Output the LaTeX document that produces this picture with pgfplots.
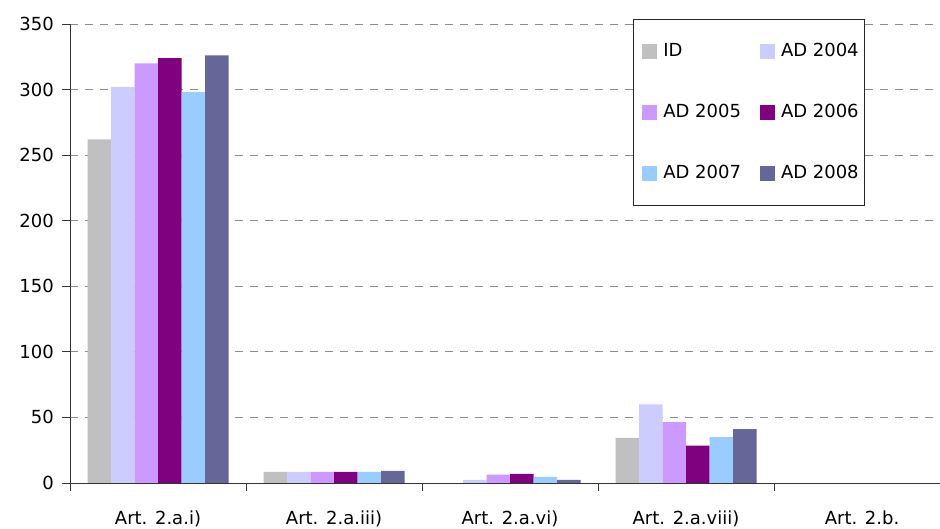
\documentclass[border=0pt]{standalone}
\usepackage{pgfplots}
\pgfplotsset{compat=1.18}
\usepackage{fontspec}
\setmainfont{DejaVu Sans}
\definecolor{cID}{HTML}{C0C0C0}
\definecolor{c04}{HTML}{CCCCFF}
\definecolor{c05}{HTML}{CC99FF}
\definecolor{c06}{HTML}{800080}
\definecolor{c07}{HTML}{99CCFF}
\definecolor{c08}{HTML}{666699}
\begin{document}
\fontsize{18pt}{21pt}\selectfont
\begin{tikzpicture}
\useasboundingbox (-70pt,-46pt) rectangle (870pt,483pt);
\begin{axis}[
  at={(0pt,0pt)}, anchor=south west,
  scale only axis, width=870pt, height=459pt,
  xmin=-0.5, xmax=4.443, ymin=0, ymax=350,
  ybar=0pt, bar width=23.5pt,
  axis x line*=bottom, axis y line*=left,
  axis line style={draw=black!80, line width=0.9pt},
  xtick={0,1,2,3,4},
  xticklabels={Art. 2.a.i), Art. 2.a.iii), Art. 2.a.vi), Art. 2.a.viii), Art. 2.b.},
  major x tick style={draw=none},
  minor xtick={-0.5,0.5,1.5,2.5,3.5,4.5},
  minor x tick style={draw=black!80, line width=0.9pt},
  minor tick length=8pt,
  x tick label style={yshift=-14pt},
  ytick={0,50,...,350},
  tick align=outside,
  major tick length=8pt,
  y tick style={draw=black!80, line width=0.9pt},
  y tick label style={xshift=-2pt},
  ymajorgrids,
  grid style={dashed, draw=black!45, line width=0.9pt, dash pattern=on 8pt off 7pt},
  tick label style={font=\fontsize{18pt}{21pt}\selectfont},
  /pgf/number format/assume math mode=true,
  legend columns=2,
  legend cell align=left,
  legend style={at={(0.647,1.010)}, anchor=north west, draw=black!85, line width=0.8pt,
    font=\fontsize{18pt}{21pt}\selectfont,
    inner xsep=4pt, inner ysep=21.5pt,
    /tikz/every even column/.append style={column sep=12pt},
    row sep=41pt},
  legend image code/.code={\fill[#1, draw=none] (4.5pt,-7.5pt) rectangle (19.5pt,7.5pt); \path (0pt,0pt) (24pt,0pt);},
  every axis plot/.append style={draw=none},
]
\addplot[fill=cID] coordinates {(0,262) (1,8.5) (3,34.5)};
\addplot[fill=c04] coordinates {(0,302) (1,8.5) (2,2.3) (3,60)};
\addplot[fill=c05] coordinates {(0,320) (1,8.5) (2,6.3) (3,46.5)};
\addplot[fill=c06] coordinates {(0,324) (1,8.5) (2,7) (3,28.5)};
\addplot[fill=c07] coordinates {(0,298) (1,8.5) (2,4.6) (3,35)};
\addplot[fill=c08] coordinates {(0,326) (1,9.3) (2,2.3) (3,41)};
\legend{ID, AD 2004, AD 2005, AD 2006, AD 2007, AD 2008}
\end{axis}
\end{tikzpicture}
\end{document}
